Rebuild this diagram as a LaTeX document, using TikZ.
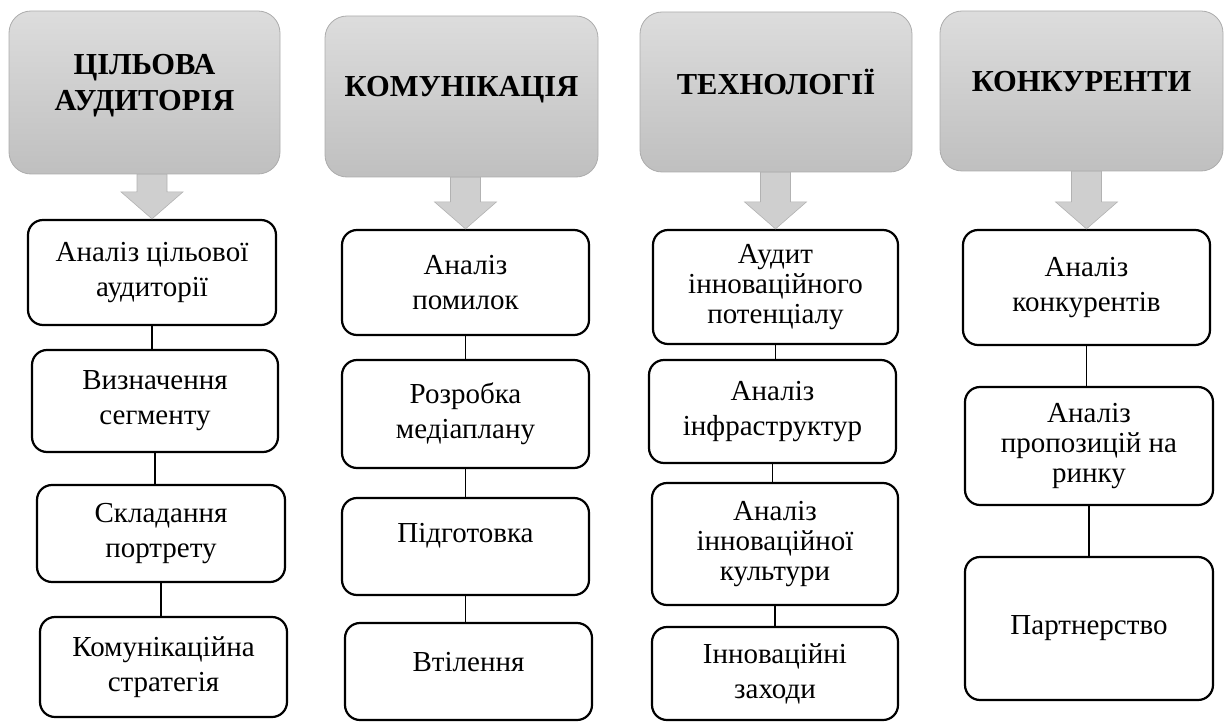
\documentclass[tikz,border=0pt]{standalone}
\usepackage{fontspec}
\setmainfont{Liberation Serif}
\usetikzlibrary{calc}

% broad grey arrow from a header (#1) down to the first box (#2)
\newcommand{\fatarrow}[2]{%
  \draw[fat] let \p1=(#1.south), \p2=(#2.north) in
    (\x2-15pt,\y1)--(\x2+15pt,\y1)--(\x2+15pt,\y2+27pt)--(\x2+31pt,\y2+27pt)
    --(\x2,\y2)--(\x2-31pt,\y2+27pt)--(\x2-15pt,\y2+27pt)--cycle;}

\begin{document}
\begin{tikzpicture}[x=1pt,y=-1pt,
    head/.style={draw=gray!65, line width=0.8pt, top color=gray!27, bottom color=gray!50,
        rounded corners=22pt, align=center, inner sep=0pt, text depth=20pt,
        font=\fontsize{30.5}{36}\selectfont\bfseries},
    box/.style={draw, line width=2.2pt, rounded corners=15pt, align=center, inner sep=0pt,
        minimum width=247pt, font=\fontsize{29}{35}\selectfont},
    tight/.style={font=\fontsize{29}{30}\selectfont},
    lift/.style={text depth=#1pt},
    link/.style={line width=1.1pt},
    fat/.style={fill=gray!38, draw=gray!60, line width=0.6pt}]
    \useasboundingbox (0,0) rectangle (1225,722);

    \node[head, minimum width=271pt, minimum height=163pt] (h1) at (144.5,92.5) {ЦІЛЬОВА\\АУДИТОРІЯ};
    \node[head, minimum width=273pt, minimum height=161pt] (h2) at (461.5,96.5) {КОМУНІКАЦІЯ};
    \node[head, minimum width=272pt, minimum height=160pt] (h3) at (776,92) {ТЕХНОЛОГІЇ};
    \node[head, minimum width=283pt, minimum height=160pt] (h4) at (1081.5,91) {КОНКУРЕНТИ};

    \node[box, minimum width=248pt, minimum height=105pt] (a1) at (152,272.5) {Аналіз цільової\\аудиторії};
    \node[box, minimum width=246pt, minimum height=102pt] (a2) at (155,401) {Визначення\\сегменту};
    \node[box, minimum width=248pt, minimum height=97pt] (a3) at (161,533.5) {Складання\\портрету};
    \node[box, minimum height=100pt] (a4) at (163.5,667) {Комунікаційна\\стратегія};

    \node[box, minimum height=105pt] (b1) at (465.5,282.5) {Аналіз\\помилок};
    \node[box, minimum height=108pt] (b2) at (465.5,414) {Розробка\\медіаплану};
    \node[box, minimum height=97pt, lift=28] (b3) at (465.5,546.5) {Підготовка};
    \node[box, minimum height=97pt, lift=20] (b4) at (468.5,671.5) {Втілення};

    \node[box, tight, minimum width=245pt, minimum height=114pt] (c1) at (775.5,287) {Аудит\\інноваційного\\потенціалу};
    \node[box, minimum height=103pt] (c2) at (772.5,411.5) {Аналіз\\інфраструктур};
    \node[box, tight, minimum width=246pt, minimum height=122pt] (c3) at (775,544) {Аналіз\\інноваційної\\культури};
    \node[box, minimum width=246pt, minimum height=93pt] (c4) at (775,673.5) {Інноваційні\\заходи};

    \node[box, minimum height=115pt] (d1) at (1086.5,287.5) {Аналіз\\конкурентів};
    \node[box, tight, minimum width=248pt, minimum height=118pt] (d2) at (1089,446) {Аналіз\\пропозицій на\\ринку};
    \node[box, minimum width=248pt, minimum height=143pt] (d3) at (1089,628.5) {Партнерство};

    \foreach \h/\c in {h1/a1,h2/b1,h3/c1,h4/d1}
        \fatarrow{\h}{\c};

    \foreach \u/\v in {a1/a2,a2/a3,a3/a4,b1/b2,b2/b3,b3/b4,c1/c2,c2/c3,c3/c4,d1/d2,d2/d3}
        \draw[link] (\u.south)--(\u.south |- \v.north);
\end{tikzpicture}
\end{document}
